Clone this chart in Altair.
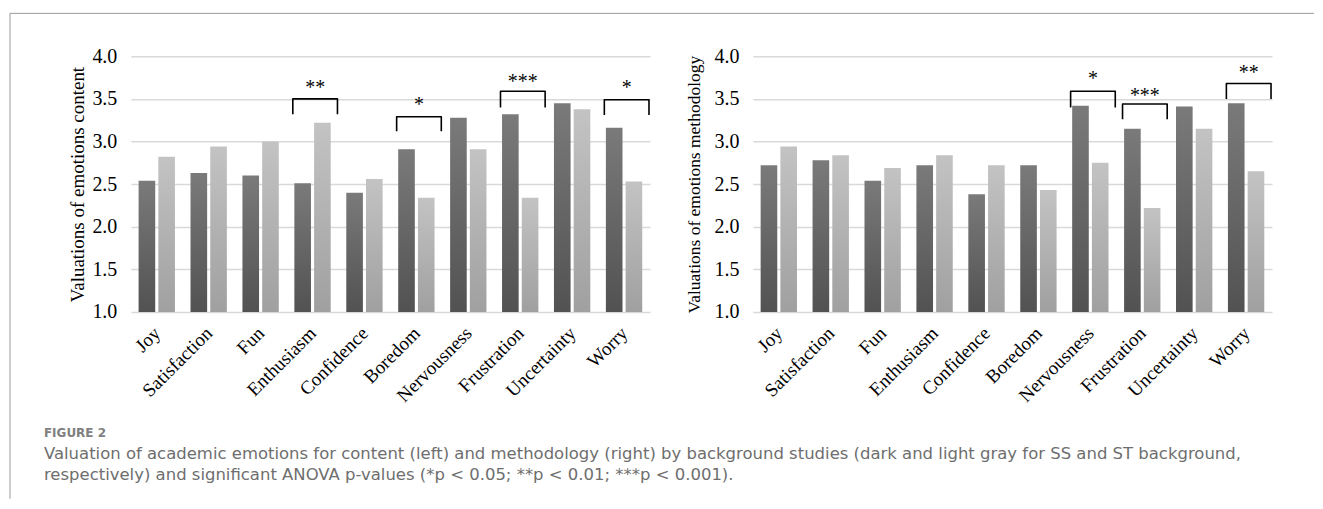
import json
import altair as alt
import pandas as pd

# ---------------- data ----------------
categories = ["Joy", "Satisfaction", "Fun", "Enthusiasm", "Confidence",
              "Boredom", "Nervousness", "Frustration", "Uncertainty", "Worry"]

content_ss = [2.54, 2.63, 2.60, 2.51, 2.40, 2.91, 3.28, 3.32, 3.45, 3.16]
content_st = [2.82, 2.94, 3.00, 3.22, 2.56, 2.34, 2.91, 2.34, 3.38, 2.53]
method_ss = [2.72, 2.78, 2.54, 2.72, 2.38, 2.72, 3.42, 3.15, 3.41, 3.45]
method_st = [2.94, 2.84, 2.69, 2.84, 2.72, 2.43, 2.75, 2.22, 3.15, 2.65]

content_sig_cats = ["Enthusiasm", "Boredom", "Frustration", "Worry"]
content_sig_stars = ["**", "*", "***", "*"]
content_sig_top = [3.50, 3.29, 3.59, 3.49]
content_sig_leg = [3.32, 3.12, 3.40, 3.31]
content_sig_label = [3.63, 3.43, 3.70, 3.63]

method_sig_cats = ["Nervousness", "Frustration", "Worry"]
method_sig_stars = ["*", "***", "**"]
method_sig_top = [3.59, 3.44, 3.68]
method_sig_leg = [3.40, 3.26, 3.50]
method_sig_label = [3.73, 3.53, 3.80]

y_ticks = [1.0, 1.5, 2.0, 2.5, 3.0, 3.5, 4.0]
title_content = "Valuations of emotions content"
title_method = "Valuations of emotions methodology"

fig_label = "FIGURE 2"
caption_1 = ("Valuation of academic emotions for content (left) and methodology (right) "
             "by background studies (dark and light gray for SS and ST background,")
caption_2 = ("respectively) and significant ANOVA p-values "
             "(*p < 0.05; **p < 0.01; ***p < 0.001).")

# ---------------- style ----------------
SERIF = "Liberation Serif"
SANS = "DejaVu Sans"
PW, PH = 520, 256

dark_grad = alt.Gradient(gradient="linear", x1=0, x2=0, y1=0, y2=1,
                         stops=[alt.GradientStop(color="#7a7a7a", offset=0),
                                alt.GradientStop(color="#525252", offset=1)])
light_grad = alt.Gradient(gradient="linear", x1=0, x2=0, y1=0, y2=1,
                          stops=[alt.GradientStop(color="#c3c3c3", offset=0),
                                 alt.GradientStop(color="#a0a0a0", offset=1)])

label_expr = json.dumps(categories) + "[datum.value]"

x_scale = alt.Scale(domain=[-0.5, len(categories) - 0.5], nice=False, zero=False)
y_scale = alt.Scale(domain=[1, 4], nice=False, zero=False)


def x_axis():
    return alt.Axis(values=list(range(len(categories))), labelExpr=label_expr,
                    labelAngle=-45, labelAlign="right", labelBaseline="middle",
                    labelFont=SERIF, labelFontSize=19, labelColor="#000000",
                    labelPadding=18, labelOverlap=False, labelFlush=False,
                    labelBound=False, grid=False, ticks=False, domain=False, title=None)


def y_axis(title, tsize, tpad):
    return alt.Axis(values=y_ticks, format=".1f", grid=True, gridColor="#d9d9d9",
                    gridWidth=1.5, domain=False, ticks=False,
                    labelFont=SERIF, labelFontSize=20, labelColor="#000000",
                    labelPadding=14, title=title, titleFont=SERIF, titleFontSize=tsize,
                    titleFontWeight="normal", titleColor="#000000", titlePadding=tpad)


def panel(ss, st, sig_cats, sig_stars, sig_top, sig_leg, sig_label, title, tsize, tpad,
          frame=False):
    n = len(categories)
    dark = pd.DataFrame({"idx": range(n), "cat": categories, "value": ss})
    light = pd.DataFrame({"idx": range(n), "cat": categories, "value": st})
    dark["x1"] = dark["idx"] - 0.35
    dark["x2"] = dark["idx"] - 0.03
    light["x1"] = light["idx"] + 0.03
    light["x2"] = light["idx"] + 0.35

    X = alt.X("x1:Q", scale=x_scale, axis=x_axis())
    Y = alt.Y("value:Q", scale=y_scale, axis=y_axis(title, tsize, tpad))

    l_dark = alt.Chart(dark).mark_bar(color=dark_grad).encode(
        x=X, x2="x2:Q", y=Y, y2=alt.datum(1.0))
    l_light = alt.Chart(light).mark_bar(color=light_grad).encode(
        x=X, x2="x2:Q", y=Y, y2=alt.datum(1.0))

    rows = []
    trows = []
    for k, (c, s, t, lg, lb) in enumerate(zip(sig_cats, sig_stars, sig_top, sig_leg, sig_label)):
        i = categories.index(c)
        xa, xb = i - 0.38, i + 0.48
        for o, (xx, yy) in enumerate([(xa, lg), (xa, t), (xb, t), (xb, lg)]):
            rows.append({"id": k, "o": o, "x1": xx, "value": yy})
        trows.append({"x1": i + 0.05, "value": lb, "stars": s})
    br = pd.DataFrame(rows)
    tx = pd.DataFrame(trows)

    l_br = alt.Chart(br).mark_line(color="#000000", strokeWidth=1.6, strokeJoin="round").encode(
        x=X, y=Y, detail="id:N", order="o:Q")
    l_tx = alt.Chart(tx).mark_text(font=SERIF, fontSize=20, color="#000000",
                                   align="center", baseline="middle").encode(
        x=X, y=Y, text="stars:N")

    layers = [l_dark, l_light, l_br, l_tx]

    if frame:
        one = pd.DataFrame({"a": [0]})
        left_line = alt.Chart(one).mark_rule(color="#9a9a9a", strokeWidth=1).encode(
            x=alt.value(-121), y=alt.value(-43), y2=alt.value(443))
        top_line = alt.Chart(one).mark_rule(color="#9a9a9a", strokeWidth=1).encode(
            x=alt.value(-121), x2=alt.value(1185), y=alt.value(-43))
        fig_t = alt.Chart(one).mark_text(font=SANS, fontSize=12, fontWeight="bold",
                                         color="#808080", align="left",
                                         baseline="middle").encode(
            x=alt.value(-87), y=alt.value(377), text=alt.value(fig_label))
        cap1 = alt.Chart(one).mark_text(font=SANS, fontSize=16.5, color="#6e6e6e",
                                        align="left", baseline="middle").encode(
            x=alt.value(-87), y=alt.value(398), text=alt.value(caption_1))
        cap2 = alt.Chart(one).mark_text(font=SANS, fontSize=16.5, color="#6e6e6e",
                                        align="left", baseline="middle").encode(
            x=alt.value(-87), y=alt.value(419), text=alt.value(caption_2))
        layers += [left_line, top_line, fig_t, cap1, cap2]

    return alt.layer(*layers).properties(width=PW, height=PH)


left = panel(content_ss, content_st, content_sig_cats, content_sig_stars,
             content_sig_top, content_sig_leg, content_sig_label, title_content, 19, 4,
             frame=True)
right = panel(method_ss, method_st, method_sig_cats, method_sig_stars,
              method_sig_top, method_sig_leg, method_sig_label, title_method, 17.5, 10)

chart = alt.hconcat(left, right, spacing=103, bounds="flush").properties(
    padding={"left": 1, "top": 4, "right": 0, "bottom": 0},
    background="#ffffff",
).configure_view(stroke=None)

chart.save("out.html", embed_options={"renderer": "svg", "actions": False})
